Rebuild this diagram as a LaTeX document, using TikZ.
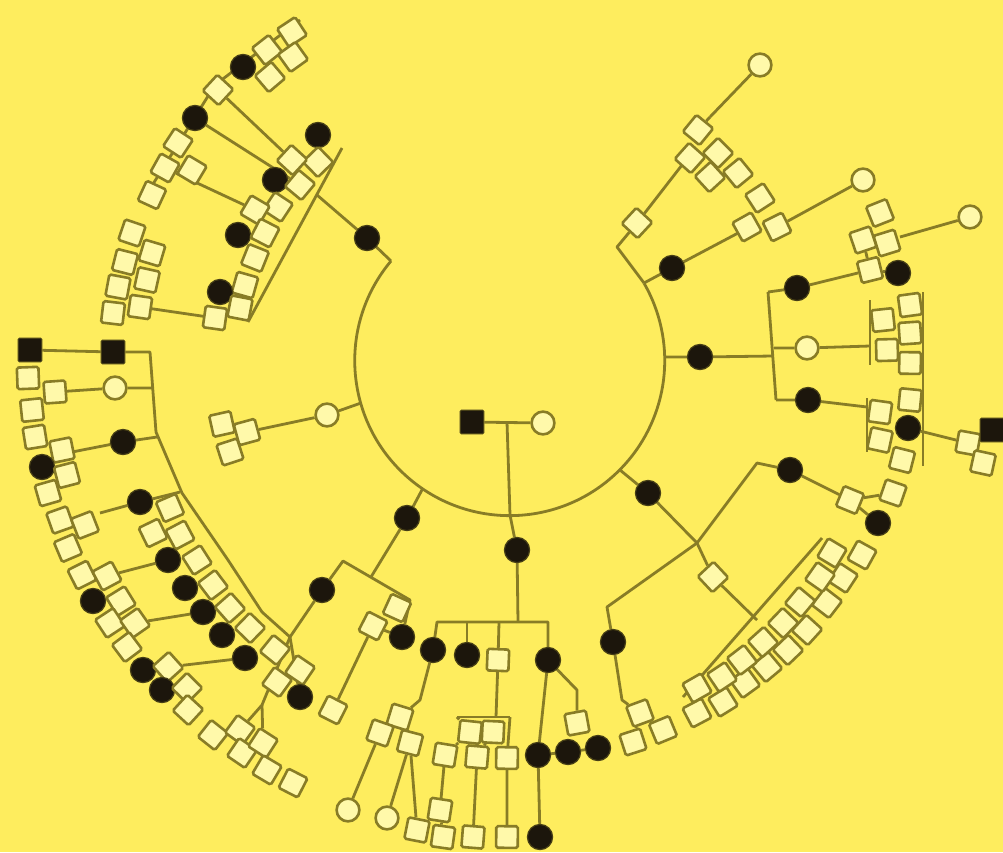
\documentclass[tikz,border=0pt]{standalone}
\pgfdeclarelayer{bgl}\pgfdeclarelayer{lnl}\pgfsetlayers{bgl,lnl,main}
\definecolor{bgy}{RGB}{254,237,94}
\definecolor{oln}{RGB}{136,124,38}
\definecolor{ofl}{RGB}{255,249,170}
\definecolor{blk}{RGB}{28,22,12}
\newcommand\symO[3]{\pgfmathsetmacro\symang{-atan2(#3-360,#2-510)}\node[osq,rotate=\symang] (#1) at (#2,#3) {};}
\newcommand\symC[3]{\node[ocir] (#1) at (#2,#3) {};}
\newcommand\symF[3]{\node[fcir] (#1) at (#2,#3) {};}
\newcommand\symS[3]{\node[fsq] (#1) at (#2,#3) {};}
\begin{document}
\begin{tikzpicture}[x=0.25mm,y=-0.25mm,
 osq/.style={draw=oln,fill=ofl,line width=0.65mm,minimum size=5.4mm,inner sep=0pt,rounded corners=1.2pt},
 ocir/.style={circle,draw=oln,fill=ofl,line width=0.65mm,minimum size=5.7mm,inner sep=0pt},
 fcir/.style={circle,fill=blk,draw=oln!40!blk,line width=0.3mm,minimum size=6.3mm,inner sep=0pt},
 fsq/.style={fill=blk,draw=oln!40!blk,line width=0.3mm,minimum size=5.9mm,inner sep=0pt,rounded corners=1pt},
 ln/.style={draw=oln,line width=0.7mm,line join=round}]
\useasboundingbox (0,0) rectangle (1003,852);
\begin{pgfonlayer}{bgl}\fill[bgy] (0,0) rectangle (1003,852);\end{pgfonlayer}
% arc points
\coordinate (aUL) at (391,261);
\coordinate (aL) at (361,403);
\coordinate (aLL) at (423,488);
\coordinate (aB) at (510,515);
\coordinate (aLR) at (620,470);
\coordinate (aR) at (665,357);
\coordinate (aUR) at (644,283);
% ---------- centre
\symS{c1}{472}{422}
\symC{c2}{543}{423}
\symF{b1}{517}{550}
\symF{b3}{433}{650}
\symF{b4}{467}{655}
\symO{b5}{498}{660}
\symF{b6}{548}{660}
% ---------- lower middle
\symO{m1}{397}{608}
\symF{m2}{402}{637}
\symO{m3}{373}{626}
\symF{a3}{407}{518}
\symF{fk}{322}{590}
\symO{m4}{333}{710}
\symO{m5}{400}{717}
\symO{m6}{380}{733}
\symO{m7}{410}{743}
\symC{m8}{348}{810}
\symC{m9}{387}{818}
\symO{m10}{417}{830}
\symO{m11}{440}{810}
\symO{m12}{443}{837}
\symO{m13}{473}{837}
\symO{m14}{507}{837}
\symF{m15}{540}{837}
\symO{m16}{470}{732}
\symO{m17}{493}{732}
\symO{m18}{445}{755}
\symO{m19}{477}{757}
\symO{m20}{507}{758}
\symF{m21}{538}{755}
\symF{m22}{568}{752}
\symF{m23}{598}{748}
\symO{m24}{577}{723}
% ---------- lower right
\symF{r1}{648}{493}
\symF{r2}{790}{470}
\symF{r3}{613}{642}
\symO{r4}{713}{577}
\symO{r5}{850}{500}
\symO{r6}{893}{493}
\symF{r7}{878}{523}
\symO{r8}{640}{713}
\symO{r9}{663}{730}
\symO{r10}{633}{742}
\symO{d1}{862}{555}
\symO{d2}{843}{578}
\symO{d3}{827}{603}
\symO{d4}{807}{630}
\symO{d5}{788}{650}
\symO{d6}{767}{667}
\symO{d7}{745}{683}
\symO{d8}{723}{702}
\symO{d9}{697}{713}
\symO{d10}{832}{553}
\symO{d11}{820}{577}
\symO{d12}{800}{602}
\symO{d13}{783}{623}
\symO{d14}{763}{642}
\symO{d15}{742}{660}
\symO{d16}{722}{677}
\symO{d17}{697}{688}
% ---------- right
\symF{q1}{700}{357}
\symF{q2}{797}{288}
\symC{q3}{807}{348}
\symF{q4}{808}{400}
\symO{q5}{870}{270}
\symF{q6}{898}{273}
\symO{q7}{910}{305}
\symO{q8}{883}{320}
\symO{q9}{910}{333}
\symO{q10}{887}{350}
\symO{q11}{910}{363}
\symO{q12}{910}{400}
\symO{q13}{880}{412}
\symF{q14}{908}{428}
\symO{q15}{880}{440}
\symO{q16}{902}{460}
\symO{q17}{968}{443}
\symS{q18}{992}{430}
\symO{q19}{983}{463}
% ---------- upper right
\symC{t1}{760}{65}
\symO{t2}{698}{130}
\symO{t3}{690}{158}
\symO{t4}{718}{153}
\symO{t5}{710}{177}
\symO{t6}{738}{173}
\symO{t7}{637}{223}
\symF{t8}{672}{268}
\symO{t9}{760}{198}
\symO{t10}{747}{227}
\symO{t11}{777}{227}
\symC{t12}{863}{180}
\symO{t13}{880}{213}
\symO{t14}{863}{240}
\symO{t15}{887}{243}
\symC{t16}{970}{217}
% ---------- left
\symC{l1}{327}{415}
\symO{l2}{222}{424}
\symO{l3}{247}{432}
\symO{l4}{230}{452}
% ---------- far left
\symS{fl1}{30}{350}
\symS{fl2}{113}{352}
\symO{fl3}{28}{378}
\symO{fl4}{55}{392}
\symC{fl5}{115}{388}
\symO{fl6}{32}{410}
\symO{fl7}{35}{437}
\symO{fl8}{62}{450}
\symF{fl9}{42}{467}
\symO{fl10}{67}{475}
\symO{fl11}{48}{493}
\symO{fl12}{60}{520}
\symO{fl13}{85}{525}
\symO{fl14}{68}{548}
\symO{fl15}{82}{575}
\symO{fl16}{107}{576}
\symF{fl17}{93}{601}
\symO{fl18}{121}{601}
\symO{fl19}{110}{623}
\symO{fl20}{135}{623}
\symO{fl21}{127}{647}
\symF{fl22}{143}{670}
\symO{fl23}{168}{667}
\symF{fl24}{162}{690}
\symO{fl25}{187}{688}
\symO{fl26}{188}{710}
\symO{fl27}{213}{735}
\symO{fl28}{240}{730}
\symO{fl29}{242}{753}
\symO{fl30}{263}{743}
\symO{fl31}{267}{770}
\symO{fl32}{293}{783}
\symF{fl33}{123}{442}
\symF{fi1}{140}{502}
\symO{fi2}{170}{508}
\symO{fi3}{153}{533}
\symO{fi4}{180}{535}
\symF{fi5}{168}{560}
\symO{fi6}{197}{560}
\symF{fi7}{185}{588}
\symO{fi8}{213}{585}
\symF{fi9}{203}{612}
\symO{fi10}{230}{608}
\symF{fi11}{222}{635}
\symO{fi12}{250}{628}
\symF{fi13}{245}{658}
\symO{fi14}{275}{650}
\symO{fi15}{300}{670}
\symO{fi16}{277}{682}
\symF{fi17}{300}{697}
% ---------- upper left
\symF{u0}{367}{238}
\symO{u1}{292}{32}
\symO{u2}{267}{50}
\symO{u3}{293}{57}
\symO{u4}{270}{77}
\symF{u5}{243}{67}
\symO{u6}{218}{90}
\symF{u7}{195}{118}
\symO{u8}{178}{143}
\symO{u9}{165}{168}
\symO{u10}{192}{170}
\symO{u11}{152}{195}
\symF{u12}{318}{135}
\symO{u13}{318}{162}
\symO{u14}{292}{160}
\symF{u15}{275}{180}
\symO{u16}{300}{185}
\symO{u17}{278}{207}
\symO{u18}{255}{210}
\symF{u19}{238}{235}
\symO{u20}{265}{233}
\symO{u21}{255}{258}
\symO{u22}{245}{285}
\symF{u23}{220}{292}
\symO{u24}{240}{308}
\symO{u25}{215}{318}
\symO{u26}{132}{233}
\symO{u27}{152}{253}
\symO{u28}{125}{262}
\symO{u29}{147}{280}
\symO{u30}{118}{287}
\symO{u31}{140}{307}
\symO{u32}{113}{313}
% ---------- helper coordinates
\coordinate (cm) at (507,422);
\coordinate (b2) at (518,622);
\coordinate (bL) at (437,622);
\coordinate (bM1) at (467,622);
\coordinate (bM2) at (499,622);
\coordinate (bR) at (548,622);
\coordinate (j3) at (371,577);
\coordinate (k0) at (343,561);
\coordinate (p2) at (410,600);
\coordinate (kV) at (290,637);
\coordinate (kF1) at (150,352);
\coordinate (kF2) at (156,432);
\coordinate (kF3) at (182,493);
\coordinate (kF4) at (228,560);
\coordinate (kF5) at (262,612);
\coordinate (kF6) at (153,388);
\coordinate (kF7) at (72,452);
\coordinate (kF8) at (157,437);
\coordinate (kF9) at (100,513);
\coordinate (kF10) at (180,492);
\coordinate (kF11) at (262,705);
\coordinate (kM1) at (420,700);
\coordinate (kM3) at (496,717);
\coordinate (kM4) at (457,717);
\coordinate (kM5) at (510,717);
\coordinate (kM6) at (577,690);
\coordinate (kJ5) at (697,543);
\coordinate (kR1) at (757,620);
\coordinate (kR2) at (757,463);
\coordinate (kR3) at (607,607);
\coordinate (kR4) at (622,700);
\coordinate (kR5) at (683,697);
\coordinate (kR6) at (822,538);
\coordinate (kQ1) at (773,356);
\coordinate (kQ2) at (768,292);
\coordinate (kQ3) at (776,400);
\coordinate (kQ4) at (774,348);
\coordinate (kQ5) at (870,346);
\coordinate (kQ6) at (867,407);
\coordinate (kQ7) at (870,300);
\coordinate (kQ8) at (870,365);
\coordinate (kQ9) at (867,398);
\coordinate (kQ10) at (867,452);
\coordinate (kQ11) at (923,292);
\coordinate (kQ12) at (923,466);
\coordinate (kT1) at (617,247);
\coordinate (kT2) at (682,165);
\coordinate (kT3) at (710,117);
\coordinate (kT4) at (740,232);
\coordinate (kT5) at (900,237);
\coordinate (kU1) at (342,148);
\coordinate (kU2) at (248,322);
\coordinate (kU3) at (317,195);
\coordinate (kU6) at (300,20);
\coordinate (kU7) at (215,85);
\coordinate (kU8) at (143,200);
% ---------- connectors
\begin{pgfonlayer}{lnl}
\draw[ln] (aUL) arc[start angle=220,end angle=-30,radius=155];
\draw[ln] (c1) -- (c2);
\draw[ln] (cm) -- (aB) -- (b1) -- (b2);
\draw[ln] (b3) -- (bL) -- (bR) -- (b6);
\draw[ln] (bM1) -- (b4);
\draw[ln] (bM2) -- (b5);
% lower middle
\draw[ln] (aLL) -- (a3) -- (j3);
\draw[ln] (kV) -- (fk) -- (k0) -- (p2) -- (m2);
\draw[ln] (m3) -- (m2);
\draw[ln] (m3) -- (m4);
\draw[ln] (b3) -- (kM1) -- (m5);
\draw[ln] (m6) -- (m8);
\draw[ln] (m7) -- (m9);
\draw[ln] (m5) -- (m7) -- (m10);
\draw[ln] (b5) -- (kM3);
\draw[ln] (kM4) -- (kM5);
\draw[ln] (kM4) -- (m16);
\draw[ln] (kM5) -- (m20);
\draw[ln] (m16) -- (m18) -- (m11) -- (m12);
\draw[ln] (m17) -- (m19) -- (m13);
\draw[ln] (m20) -- (m14);
\draw[ln] (b6) -- (m21) -- (m15);
\draw[ln] (m21) -- (m22) -- (m23);
\draw[ln] (b6) -- (kM6) -- (m24);
% far left
\draw[ln] (fl1) -- (fl2) -- (kF1) -- (kF2) -- (kF3) -- (kF4) -- (kF5) -- (kV);
\draw[ln] (fl4) -- (fl5) -- (kF6);
\draw[ln] (kF7) -- (fl33) -- (kF8);
\draw[ln] (kF9) -- (fi1) -- (kF10);
\draw[ln] (fl16) -- (fi5);
\draw[ln] (fl20) -- (fi9);
\draw[ln] (fl23) -- (fi13);
\draw[ln] (kV) -- (kF11) -- (fl28);
\draw[ln] (kF11) -- (fl30);
\draw[ln] (fi17) -- (kV);
% left
\draw[ln] (aL) -- (l1) -- (l3);
% lower right
\draw[ln] (aLR) -- (r1) -- (kJ5) -- (r4) -- (kR1);
\draw[ln] (r2) -- (kR2) -- (kJ5) -- (kR3) -- (r3);
\draw[ln] (r2) -- (r5) -- (r6);
\draw[ln] (r5) -- (r7);
\draw[ln] (r3) -- (kR4) -- (r8);
\draw[ln] (r8) -- (r9);
\draw[ln] (r8) -- (r10);
\draw[ln] (kR5) -- (kR6);
% right
\draw[ln] (aR) -- (q1) -- (kQ1);
\draw[ln] (kQ2) -- (kQ3);
\draw[ln] (kQ2) -- (q2) -- (q5) -- (q6);
\draw[ln] (kQ4) -- (q3) -- (kQ5);
\draw[ln] (kQ3) -- (q4) -- (kQ6);
\draw[ln] (kQ7) -- (kQ8);
\draw[ln] (kQ9) -- (kQ10);
\draw[ln] (kQ11) -- (kQ12);
\draw[ln] (q14) -- (q17) -- (q18);
\draw[ln] (q17) -- (q19);
% upper right
\draw[ln] (aUR) -- (kT1) -- (t7) -- (kT2) -- (t3);
\draw[ln] (kT3) -- (t1);
\draw[ln] (t2) -- (kT3);
\draw[ln] (aUR) -- (t8) -- (kT4) -- (t10);
\draw[ln] (t11) -- (t12);
\draw[ln] (kT5) -- (t16);
\draw[ln] (t14) -- (q5);
% upper left
\draw[ln] (aUL) -- (u0) -- (kU3);
\draw[ln] (kU1) -- (kU2);
\draw[ln] (u14) -- (u6);
\draw[ln] (u16) -- (u7);
\draw[ln] (u18) -- (u9);
\draw[ln] (kU6) -- (kU7) -- (kU8);
\draw[ln] (u31) -- (u25);
\end{pgfonlayer}
\end{tikzpicture}
\end{document}
